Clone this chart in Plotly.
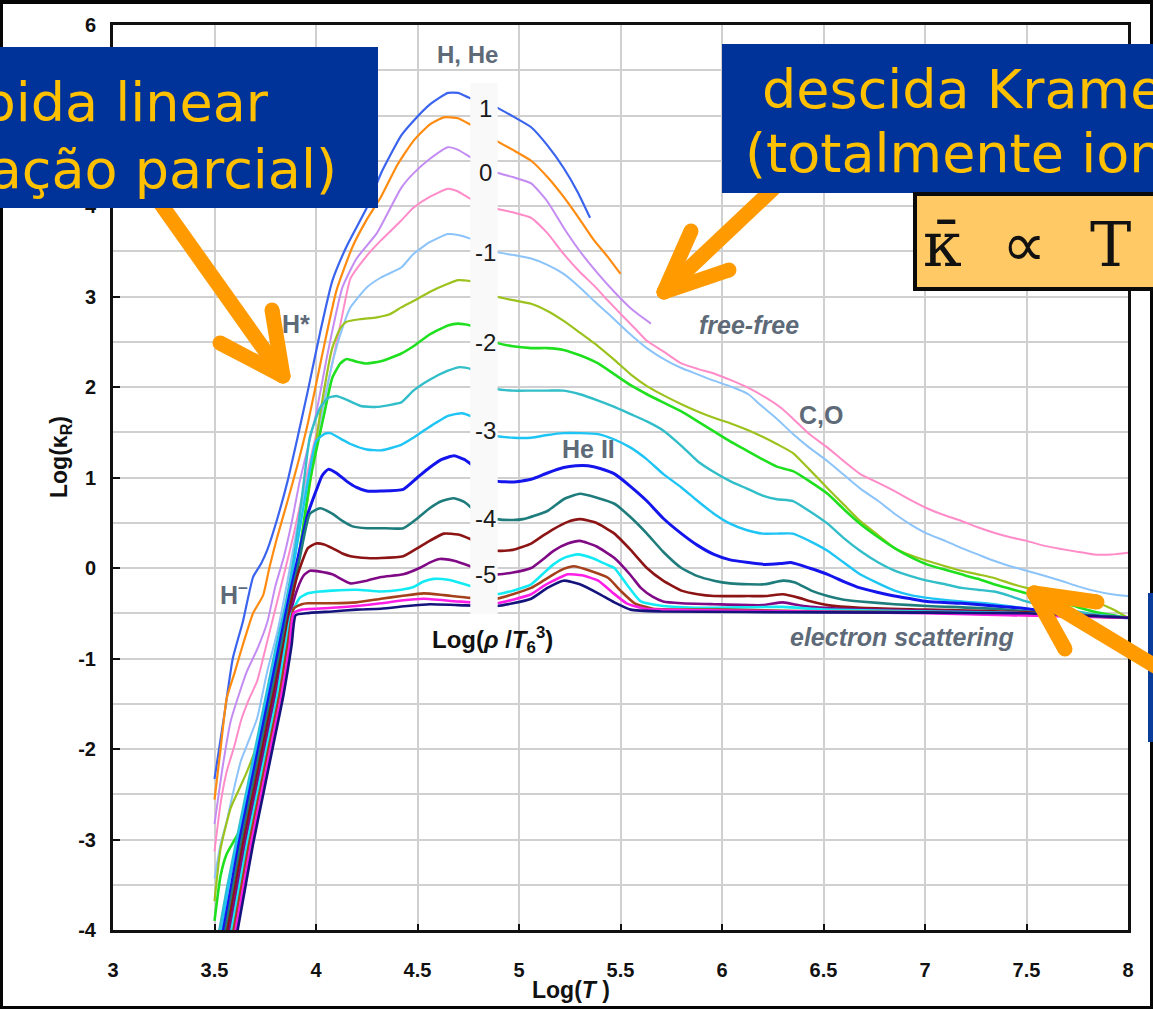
import plotly.graph_objects as go

# ---------------------------------------------------------------
# Rosseland mean opacity log(kappa_R) versus log(T),
# one track per value of log(rho / T6^3)
# ---------------------------------------------------------------

x_tick_vals = [3, 3.5, 4, 4.5, 5, 5.5, 6, 6.5, 7, 7.5, 8]
x_tick_text = ["3", "3.5", "4", "4.5", "5", "5.5", "6", "6.5", "7", "7.5", "8"]
y_tick_vals = [-4, -3, -2, -1, 0, 1, 2, 3, 4, 5, 6]
y_tick_text = ["-4", "-3", "-2", "-1", "0", "1", "2", "3", "4", "5", "6"]

# log R = +1.0
logT_p10 = [3.50, 3.55, 3.59, 3.64, 3.69, 3.73, 3.76, 3.81, 3.86, 3.91, 3.96, 4.02, 4.08, 4.15, 4.25,
            4.32, 4.42, 4.48, 4.56, 4.65, 4.70, 4.76, 4.83, 4.89, 4.97, 5.06, 5.14, 5.22, 5.29, 5.35]
kap_p10 = [-2.33, -1.60, -1.00, -0.59, -0.10, 0.05, 0.20, 0.55, 0.96, 1.45, 1.96, 2.60, 3.17, 3.55, 3.98,
           4.36, 4.78, 4.94, 5.12, 5.25, 5.25, 5.19, 5.15, 5.09, 4.99, 4.87, 4.67, 4.42, 4.15, 3.87]

# log R = +0.5
logT_p05 = [3.50, 3.53, 3.56, 3.60, 3.63, 3.69, 3.74, 3.77, 3.81, 3.86, 3.91, 3.96, 4.03, 4.10, 4.18, 4.25,
            4.32, 4.40, 4.48, 4.56, 4.63, 4.70, 4.76, 4.83, 4.89, 4.97, 5.06, 5.14, 5.22, 5.30, 5.37, 5.44, 5.50]
kap_p05 = [-2.56, -2.00, -1.44, -1.15, -0.92, -0.50, -0.30, 0.00, 0.35, 0.74, 1.15, 1.60, 2.35, 3.06, 3.55, 3.85,
           4.10, 4.45, 4.72, 4.90, 4.98, 4.97, 4.90, 4.82, 4.72, 4.62, 4.50, 4.32, 4.10, 3.85, 3.62, 3.43, 3.25]

# log R = 0.0
logT_p00 = [3.50, 3.54, 3.58, 3.62, 3.66, 3.71, 3.76, 3.80, 3.84, 3.88, 3.92, 4.00, 4.06, 4.13, 4.20, 4.30,
            4.42, 4.48, 4.56, 4.65, 4.70, 4.76, 4.83, 4.89, 4.97, 5.06, 5.14, 5.22, 5.30, 5.39, 5.47, 5.56, 5.65]
kap_p00 = [-2.83, -2.20, -1.69, -1.40, -1.14, -0.90, -0.60, -0.20, 0.11, 0.50, 0.96, 1.70, 2.40, 3.10, 3.42, 3.70,
           4.20, 4.36, 4.52, 4.65, 4.62, 4.54, 4.45, 4.37, 4.32, 4.25, 4.05, 3.76, 3.50, 3.25, 3.05, 2.85, 2.70]

# log R = -0.5
logT_m05 = [3.50, 3.53, 3.56, 3.60, 3.63, 3.67, 3.71, 3.76, 3.81, 3.85, 3.89, 3.93, 3.97, 4.03, 4.08, 4.13,
            4.17, 4.25, 4.32, 4.42, 4.48, 4.56, 4.65, 4.70, 4.76, 4.83, 4.89, 4.97, 5.06, 5.14, 5.22, 5.30,
            5.37, 5.44, 5.50, 5.57, 5.63, 5.72, 5.80, 5.88, 5.96, 6.05, 6.13, 6.21, 6.29, 6.35, 6.43, 6.52,
            6.60, 6.68, 6.77, 6.85, 6.93, 7.01, 7.10, 7.18, 7.26, 7.34, 7.42, 7.50, 7.58, 7.67, 7.75, 7.83,
            7.92, 8.00]
kap_m05 = [-3.13, -2.60, -2.25, -1.95, -1.69, -1.45, -1.25, -0.81, -0.36, 0.00, 0.37, 0.78, 1.18, 1.75, 2.26, 2.80,
           3.20, 3.45, 3.62, 3.84, 3.98, 4.10, 4.19, 4.16, 4.08, 4.02, 3.97, 3.93, 3.87, 3.70, 3.47, 3.27,
           3.12, 2.95, 2.81, 2.65, 2.51, 2.38, 2.26, 2.20, 2.15, 2.07, 1.99, 1.89, 1.77, 1.65, 1.48, 1.33,
           1.18, 1.04, 0.94, 0.85, 0.75, 0.66, 0.58, 0.52, 0.45, 0.39, 0.34, 0.30, 0.25, 0.21, 0.18, 0.15,
           0.15, 0.17]

# log R = -1.0
logT_m10 = [3.50, 3.53, 3.56, 3.60, 3.63, 3.67, 3.71, 3.76, 3.81, 3.86, 3.92, 4.00, 4.08, 4.13, 4.17, 4.25,
            4.32, 4.42, 4.48, 4.56, 4.65, 4.70, 4.76, 4.83, 4.89, 4.97, 5.06, 5.14, 5.22, 5.30, 5.37, 5.44,
            5.53, 5.63, 5.72, 5.80, 5.88, 5.96, 6.05, 6.13, 6.19, 6.27, 6.35, 6.43, 6.52, 6.60, 6.68, 6.77,
            6.85, 6.93, 7.01, 7.10, 7.18, 7.26, 7.34, 7.42, 7.50, 7.58, 7.67, 7.75, 7.83, 7.92, 8.00]
kap_m10 = [-3.43, -3.05, -2.80, -2.40, -2.13, -1.90, -1.66, -1.14, -0.70, -0.14, 0.60, 1.40, 2.26, 2.65, 2.88, 3.10,
           3.21, 3.32, 3.47, 3.60, 3.69, 3.68, 3.64, 3.56, 3.49, 3.46, 3.42, 3.35, 3.25, 3.10, 2.95, 2.81,
           2.62, 2.43, 2.30, 2.21, 2.14, 2.07, 2.00, 1.92, 1.80, 1.65, 1.48, 1.33, 1.18, 1.03, 0.88, 0.74,
           0.60, 0.48, 0.38, 0.30, 0.22, 0.15, 0.08, 0.02, -0.03, -0.08, -0.14, -0.20, -0.25, -0.29, -0.31]

# log R = -1.5
logT_m15 = [3.50, 3.53, 3.58, 3.62, 3.66, 3.72, 3.76, 3.79, 3.84, 3.89, 3.96, 4.02, 4.08, 4.12, 4.15, 4.22,
            4.30, 4.36, 4.42, 4.48, 4.56, 4.65, 4.70, 4.76, 4.83, 4.89, 4.97, 5.06, 5.14, 5.22, 5.30, 5.39,
            5.47, 5.55, 5.63, 5.71, 5.80, 5.88, 5.96, 6.04, 6.12, 6.20, 6.27, 6.35, 6.43, 6.52, 6.60, 6.68,
            6.77, 6.85, 6.93, 7.01, 7.10, 7.18, 7.26, 7.34, 7.42, 7.50, 7.58, 7.67, 7.75, 7.83, 7.92, 8.00]
kap_m15 = [-3.68, -3.10, -2.65, -2.45, -2.25, -1.88, -1.50, -1.14, -0.59, -0.14, 0.77, 1.70, 2.43, 2.65, 2.72, 2.75,
           2.77, 2.80, 2.88, 2.95, 3.05, 3.14, 3.18, 3.17, 3.08, 3.00, 2.96, 2.92, 2.84, 2.73, 2.60, 2.45,
           2.30, 2.14, 2.01, 1.91, 1.81, 1.73, 1.66, 1.60, 1.53, 1.45, 1.37, 1.27, 1.09, 0.88, 0.70, 0.52,
           0.36, 0.22, 0.14, 0.08, 0.02, -0.03, -0.07, -0.11, -0.17, -0.22, -0.25, -0.29, -0.33, -0.37, -0.45, -0.55]

# log R = -2.0
logT_m20 = [3.50, 3.53, 3.56, 3.60, 3.63, 3.66, 3.69, 3.72, 3.76, 3.79, 3.82, 3.86, 3.91, 3.97, 4.04, 4.08,
            4.12, 4.15, 4.20, 4.25, 4.33, 4.42, 4.48, 4.56, 4.65, 4.70, 4.76, 4.83, 4.89, 4.97, 5.06, 5.14,
            5.22, 5.30, 5.39, 5.47, 5.55, 5.63, 5.71, 5.80, 5.88, 5.96, 6.04, 6.12, 6.20, 6.27, 6.35, 6.43,
            6.52, 6.60, 6.68, 6.77, 6.85, 6.93, 7.01, 7.10, 7.18, 7.26, 7.34, 7.42, 7.50, 7.58, 7.67, 7.75,
            7.83, 7.92, 8.00]
kap_m20 = [-3.90, -3.40, -3.16, -3.00, -2.88, -2.72, -2.54, -2.25, -1.88, -1.40, -0.95, -0.59, 0.04, 0.96, 1.70, 2.10,
           2.26, 2.31, 2.28, 2.26, 2.29, 2.37, 2.45, 2.58, 2.68, 2.70, 2.68, 2.58, 2.49, 2.45, 2.43, 2.43,
           2.41, 2.35, 2.26, 2.14, 2.02, 1.92, 1.83, 1.73, 1.62, 1.51, 1.40, 1.30, 1.20, 1.12, 1.07, 0.96,
           0.82, 0.65, 0.49, 0.34, 0.22, 0.12, 0.04, -0.02, -0.07, -0.12, -0.18, -0.23, -0.28, -0.32, -0.37, -0.43,
           -0.48, -0.52, -0.55]

# log R = -2.5
logT_m25 = [3.52, 3.56, 3.60, 3.65, 3.70, 3.75, 3.80, 3.85, 3.90, 3.94, 3.97, 4.02, 4.06, 4.10, 4.15, 4.22,
            4.30, 4.36, 4.42, 4.48, 4.56, 4.65, 4.71, 4.76, 4.83, 4.89, 4.97, 5.06, 5.14, 5.22, 5.30, 5.39,
            5.47, 5.55, 5.63, 5.71, 5.80, 5.88, 5.96, 6.04, 6.12, 6.20, 6.27, 6.35, 6.43, 6.52, 6.60, 6.68,
            6.77, 6.85, 6.93, 7.01, 7.10, 7.18, 7.26, 7.34, 7.42, 7.50, 7.58, 7.67, 7.75, 7.83, 7.92, 8.00]
kap_m25 = [-4.05, -3.55, -3.10, -2.55, -2.00, -1.45, -0.90, -0.40, 0.25, 0.95, 1.45, 1.77, 1.88, 1.90, 1.86, 1.79,
           1.78, 1.80, 1.83, 1.96, 2.08, 2.18, 2.22, 2.20, 2.08, 1.98, 1.96, 1.96, 1.96, 1.96, 1.92, 1.85,
           1.78, 1.70, 1.62, 1.52, 1.35, 1.18, 1.06, 0.96, 0.88, 0.80, 0.76, 0.74, 0.63, 0.49, 0.33, 0.19,
           0.06, -0.03, -0.09, -0.14, -0.18, -0.22, -0.24, -0.26, -0.31, -0.37, -0.41, -0.45, -0.48, -0.51, -0.53, -0.55]

# log R = -3.0
logT_m30 = [3.53, 3.57, 3.61, 3.66, 3.71, 3.76, 3.81, 3.86, 3.91, 3.96, 4.00, 4.04, 4.07, 4.12, 4.17, 4.25,
            4.32, 4.42, 4.48, 4.56, 4.65, 4.72, 4.78, 4.89, 4.97, 5.06, 5.14, 5.22, 5.30, 5.39, 5.47, 5.55,
            5.63, 5.71, 5.80, 5.88, 5.96, 6.04, 6.12, 6.20, 6.27, 6.35, 6.43, 6.52, 6.60, 6.68, 6.77, 6.85,
            6.93, 7.01, 7.18, 7.34, 7.50, 7.67, 7.83, 8.00]
kap_m30 = [-4.05, -3.50, -3.05, -2.50, -1.95, -1.40, -0.85, -0.35, 0.30, 0.96, 1.40, 1.48, 1.49, 1.43, 1.37, 1.31,
           1.30, 1.36, 1.44, 1.56, 1.68, 1.71, 1.66, 1.46, 1.44, 1.44, 1.47, 1.49, 1.49, 1.48, 1.42, 1.33,
           1.20, 1.04, 0.89, 0.74, 0.60, 0.49, 0.42, 0.38, 0.38, 0.38, 0.30, 0.19, 0.06, -0.07, -0.17, -0.25,
           -0.30, -0.33, -0.37, -0.40, -0.45, -0.51, -0.53, -0.55]

# log R = -3.5
logT_m35 = [3.54, 3.58, 3.62, 3.67, 3.72, 3.77, 3.82, 3.87, 3.92, 3.96, 4.00, 4.03, 4.06, 4.10, 4.15, 4.20,
            4.25, 4.32, 4.43, 4.50, 4.56, 4.62, 4.68, 4.73, 4.78, 4.84, 4.89, 4.97, 5.06, 5.14, 5.22, 5.28,
            5.34, 5.40, 5.47, 5.55, 5.63, 5.71, 5.80, 5.88, 5.96, 6.04, 6.13, 6.21, 6.29, 6.34, 6.43, 6.52,
            6.60, 6.68, 6.77, 6.85, 6.93, 7.01, 7.18, 7.34, 7.50, 7.67, 7.83, 8.00]
kap_m35 = [-4.05, -3.55, -3.05, -2.50, -1.95, -1.40, -0.85, -0.30, 0.20, 0.60, 0.85, 1.02, 1.09, 1.05, 0.96, 0.89,
           0.85, 0.85, 0.87, 1.00, 1.11, 1.20, 1.24, 1.20, 1.12, 1.02, 0.96, 0.95, 0.98, 1.05, 1.11, 1.13,
           1.13, 1.10, 1.04, 0.90, 0.74, 0.55, 0.38, 0.25, 0.15, 0.09, 0.06, 0.04, 0.05, 0.06, 0.00, -0.07,
           -0.15, -0.22, -0.27, -0.31, -0.34, -0.37, -0.39, -0.42, -0.45, -0.50, -0.53, -0.55]

# log R = -4.0
logT_m40 = [3.55, 3.59, 3.63, 3.68, 3.73, 3.78, 3.83, 3.87, 3.92, 3.97, 4.02, 4.08, 4.13, 4.18, 4.25, 4.32,
            4.43, 4.50, 4.56, 4.62, 4.68, 4.73, 4.78, 4.84, 4.89, 4.97, 5.02, 5.08, 5.14, 5.22, 5.30, 5.38,
            5.47, 5.55, 5.63, 5.71, 5.80, 5.88, 5.96, 6.04, 6.13, 6.21, 6.30, 6.36, 6.44, 6.52, 6.60, 6.68,
            6.85, 7.01, 7.34, 7.67, 8.00]
kap_m40 = [-4.05, -3.55, -3.05, -2.50, -1.95, -1.40, -0.85, -0.40, 0.11, 0.60, 0.66, 0.60, 0.52, 0.46, 0.44, 0.44,
           0.44, 0.55, 0.66, 0.74, 0.77, 0.73, 0.64, 0.57, 0.54, 0.53, 0.54, 0.58, 0.63, 0.76, 0.82, 0.78,
           0.71, 0.56, 0.38, 0.18, 0.00, -0.09, -0.14, -0.17, -0.18, -0.18, -0.14, -0.16, -0.25, -0.31, -0.35, -0.37,
           -0.40, -0.42, -0.45, -0.51, -0.55]

# log R = -4.5
logT_m45 = [3.56, 3.60, 3.64, 3.69, 3.74, 3.79, 3.84, 3.88, 3.91, 3.96, 4.00, 4.04, 4.08, 4.13, 4.17, 4.25,
            4.32, 4.43, 4.50, 4.56, 4.63, 4.70, 4.76, 4.83, 4.89, 4.97, 5.06, 5.12, 5.17, 5.24, 5.30, 5.38,
            5.47, 5.55, 5.63, 5.71, 5.80, 5.88, 5.96, 6.13, 6.22, 6.30, 6.38, 6.44, 6.52, 6.68, 7.01, 7.50, 8.00]
kap_m45 = [-4.05, -3.55, -3.05, -2.50, -1.95, -1.40, -0.85, -0.35, -0.07, 0.22, 0.27, 0.26, 0.22, 0.16, 0.13, 0.11,
           0.11, 0.13, 0.22, 0.30, 0.38, 0.37, 0.32, 0.24, 0.19, 0.20, 0.27, 0.36, 0.43, 0.51, 0.54, 0.50,
           0.38, 0.20, 0.00, -0.14, -0.25, -0.29, -0.31, -0.31, -0.31, -0.29, -0.33, -0.37, -0.41, -0.44, -0.46, -0.49, -0.55]

# log R = -5.0
logT_m50 = [3.57, 3.61, 3.65, 3.70, 3.75, 3.80, 3.85, 3.88, 3.91, 3.94, 3.97, 4.02, 4.08, 4.17, 4.25, 4.32,
            4.43, 4.51, 4.56, 4.61, 4.68, 4.76, 4.83, 4.89, 4.97, 5.06, 5.12, 5.17, 5.24, 5.30, 5.38, 5.47,
            5.55, 5.60, 5.66, 5.71, 5.80, 5.96, 6.20, 6.30, 6.40, 6.60, 7.00, 7.50, 8.00]
kap_m50 = [-4.05, -3.55, -3.05, -2.50, -1.95, -1.40, -0.85, -0.45, -0.22, -0.08, -0.03, -0.04, -0.07, -0.17, -0.14, -0.10,
           -0.07, 0.00, 0.06, 0.10, 0.08, 0.02, -0.04, -0.07, -0.05, 0.00, 0.10, 0.19, 0.27, 0.30, 0.24, 0.11,
           -0.08, -0.22, -0.32, -0.37, -0.39, -0.40, -0.41, -0.38, -0.42, -0.45, -0.47, -0.50, -0.55]

# log R = -5.5
logT_m55 = [3.58, 3.62, 3.66, 3.71, 3.76, 3.81, 3.85, 3.88, 3.92, 3.96, 4.02, 4.08, 4.20, 4.32, 4.42, 4.48,
            4.53, 4.58, 4.65, 4.76, 4.83, 4.89, 4.97, 5.06, 5.12, 5.17, 5.23, 5.29, 5.36, 5.43, 5.47, 5.53,
            5.60, 5.71, 5.90, 6.30, 6.50, 7.00, 7.50, 8.00]
kap_m55 = [-4.05, -3.55, -3.05, -2.50, -1.95, -1.40, -0.85, -0.50, -0.33, -0.28, -0.26, -0.25, -0.24, -0.26, -0.24, -0.21,
           -0.15, -0.12, -0.13, -0.20, -0.26, -0.29, -0.25, -0.18, -0.06, 0.04, 0.12, 0.15, 0.11, 0.04, 0.00, -0.18,
           -0.37, -0.42, -0.44, -0.43, -0.46, -0.48, -0.50, -0.55]

# log R = -6.0
logT_m60 = [3.59, 3.63, 3.67, 3.72, 3.77, 3.82, 3.86, 3.89, 3.93, 3.96, 4.08, 4.20, 4.32, 4.42, 4.53, 4.63,
            4.76, 4.89, 4.97, 5.06, 5.12, 5.17, 5.22, 5.27, 5.35, 5.44, 5.50, 5.57, 5.66, 6.00, 6.50, 7.00, 8.00]
kap_m60 = [-4.05, -3.55, -3.05, -2.50, -1.95, -1.40, -0.85, -0.45, -0.40, -0.39, -0.39, -0.38, -0.34, -0.31, -0.28, -0.30,
           -0.33, -0.34, -0.29, -0.22, -0.14, -0.07, -0.01, 0.02, -0.03, -0.11, -0.25, -0.39, -0.45, -0.46, -0.48, -0.49, -0.55]

# log R = -6.5
logT_m65 = [3.60, 3.64, 3.68, 3.73, 3.78, 3.83, 3.87, 3.89, 3.93, 4.08, 4.20, 4.32, 4.42, 4.53, 4.70, 4.89,
            4.97, 5.06, 5.12, 5.17, 5.24, 5.31, 5.39, 5.46, 5.53, 5.62, 6.00, 7.00, 8.00]
kap_m65 = [-4.05, -3.55, -3.05, -2.50, -1.95, -1.40, -0.85, -0.50, -0.46, -0.44, -0.42, -0.39, -0.36, -0.34, -0.37, -0.39,
           -0.35, -0.29, -0.20, -0.14, -0.07, -0.08, -0.14, -0.27, -0.39, -0.45, -0.47, -0.50, -0.55]

# log R = -7.0
logT_m70 = [3.61, 3.65, 3.69, 3.74, 3.79, 3.84, 3.88, 3.90, 3.95, 4.08, 4.20, 4.32, 4.45, 4.56, 4.70, 4.89,
            4.97, 5.06, 5.14, 5.22, 5.30, 5.39, 5.47, 5.55, 5.70, 6.50, 7.50, 8.00]
kap_m70 = [-4.05, -3.55, -3.05, -2.50, -1.95, -1.40, -0.85, -0.52, -0.50, -0.48, -0.46, -0.45, -0.42, -0.40, -0.41, -0.42,
           -0.39, -0.34, -0.22, -0.14, -0.18, -0.28, -0.38, -0.46, -0.48, -0.49, -0.50, -0.55]

tracks = [
    ("1.0", logT_p10, kap_p10, "#3a64ee", 2.2),
    ("0.5", logT_p05, kap_p05, "#ff8c10", 2.2),
    ("0.0", logT_p00, kap_p00, "#c48cf2", 2.0),
    ("-0.5", logT_m05, kap_m05, "#ff8cc8", 2.0),
    ("-1.0", logT_m10, kap_m10, "#8cc4fa", 2.0),
    ("-1.5", logT_m15, kap_m15, "#9cc21e", 2.2),
    ("-2.0", logT_m20, kap_m20, "#1ee01e", 2.6),
    ("-2.5", logT_m25, kap_m25, "#32bec8", 2.4),
    ("-3.0", logT_m30, kap_m30, "#1ec4f4", 2.4),
    ("-3.5", logT_m35, kap_m35, "#1414ec", 3.0),
    ("-4.0", logT_m40, kap_m40, "#1e7c7c", 2.6),
    ("-4.5", logT_m45, kap_m45, "#8c1414", 2.6),
    ("-5.0", logT_m50, kap_m50, "#800a86", 2.6),
    ("-5.5", logT_m55, kap_m55, "#14eaf4", 2.6),
    ("-6.0", logT_m60, kap_m60, "#a4401c", 2.6),
    ("-6.5", logT_m65, kap_m65, "#ff1ee6", 2.6),
    ("-7.0", logT_m70, kap_m70, "#14147c", 2.6),
]

# density labels written in the white strip (value, log kappa position)
strip_labels = ["1", "0", "-1", "-2", "-3", "-4", "-5"]
strip_label_kappa = [5.08, 4.37, 3.49, 2.49, 1.52, 0.55, -0.07]

fig = go.Figure()
for name, xs, ys, col, w in tracks:
    fig.add_trace(go.Scatter(
        x=xs, y=ys, mode="lines", name="log R = " + name,
        line=dict(color=col, width=w, shape="spline", smoothing=0.5),
        showlegend=False, hoverinfo="skip",
    ))

# ---------------- page geometry helpers (pixels -> paper) -------------
W, H = 1153, 1009
L, R, T, B = 113, 25, 25, 79
PW, PH = W - L - R, H - T - B


def px(x):
    return (x - L) / PW


def py(y):
    return (H - B - y) / PH


shapes = []

# white page inside a thin dark frame
shapes.append(dict(type="rect", xref="paper", yref="paper", layer="below",
                   x0=px(3), x1=px(1150), y0=py(1006), y1=py(4),
                   fillcolor="white", line=dict(width=0)))

# light strip carrying the density labels
shapes.append(dict(type="rect", xref="x", yref="y", layer="above",
                   x0=4.76, x1=4.895, y0=-0.51, y1=5.36,
                   fillcolor="#f9f9f9", line=dict(width=0)))

ORANGE = "#ff9a00"
STROKE = 15


def stroke(p0, p1, caps=(True, True)):
    shapes.append(dict(type="line", xref="paper", yref="paper", layer="above",
                       x0=px(p0[0]), y0=py(p0[1]), x1=px(p1[0]), y1=py(p1[1]),
                       line=dict(color=ORANGE, width=STROKE)))
    r = STROKE / 2
    for p, c in zip((p0, p1), caps):
        if c:
            shapes.append(dict(type="circle", xref="paper", yref="paper", layer="above",
                               x0=px(p[0] - r), x1=px(p[0] + r), y0=py(p[1] + r), y1=py(p[1] - r),
                               fillcolor=ORANGE, line=dict(width=0)))


# arrow towards the steep ionisation rise
stroke((158, 200), (283, 376), caps=(False, True))
stroke((283, 376), (272, 310))
stroke((283, 376), (220, 343))
# arrow towards the Kramers decline
stroke((774, 188), (664, 292), caps=(False, True))
stroke((664, 292), (691, 231))
stroke((664, 292), (729, 270))

# blue panel strip on the right edge
shapes.append(dict(type="rect", xref="paper", yref="paper", layer="above",
                   x0=px(1148), x1=px(1160), y0=py(742), y1=py(593),
                   fillcolor="#0a3c9c", line=dict(width=0)))

# arrow towards electron scattering floor
stroke((1170, 675), (1034, 593), caps=(False, True))
stroke((1034, 593), (1097, 602))
stroke((1034, 593), (1065, 649))

# text panels
BLUE = "#003399"
shapes.append(dict(type="rect", xref="paper", yref="paper", layer="above",
                   x0=px(-10), x1=px(378), y0=py(208), y1=py(47),
                   fillcolor=BLUE, line=dict(width=0)))
shapes.append(dict(type="rect", xref="paper", yref="paper", layer="above",
                   x0=px(722), x1=px(1165), y0=py(193), y1=py(44),
                   fillcolor=BLUE, line=dict(width=0)))
shapes.append(dict(type="rect", xref="paper", yref="paper", layer="above",
                   x0=px(915), x1=px(1165), y0=py(289), y1=py(194),
                   fillcolor="#ffca66", line=dict(color="#0a0a0a", width=4)))

fig.update_layout(shapes=shapes)

ann = []
YEL = "#ffc000"
PANEL_FONT = "DejaVu Sans"


def panel_text(text, x, y, anchor):
    ann.append(dict(text=text, xref="paper", yref="paper", x=px(x), y=py(y),
                    xanchor=anchor, yanchor="middle", showarrow=False,
                    font=dict(family=PANEL_FONT, size=54, color=YEL)))


panel_text("Subida linear", 271, 102, "right")
panel_text("(ionização parcial)", 339, 169, "right")
panel_text("descida Kramers", 760, 89, "left")
panel_text("(totalmente ionizado)", 743, 154, "left")

# proportionality formula in the orange box
for txt, xc, fam in (("κ̄", 942, "DejaVu Serif"), ("∝", 1024, "DejaVu Sans"), ("T", 1110, "DejaVu Serif")):
    ann.append(dict(text=txt, xref="paper", yref="paper", x=px(xc), y=py(244),
                    xanchor="center", yanchor="middle", showarrow=False,
                    font=dict(family=fam, size=62, color="#111111")))

GRAY = "#5e6a78"


def gray_label(text, x, y, italic=False, size=25, anchor="center"):
    ann.append(dict(text=text, xref="x", yref="y", x=x, y=y, xanchor=anchor, yanchor="middle",
                    showarrow=False,
                    font=dict(family="Liberation Sans", size=size, color=GRAY, weight="bold",
                              style="italic" if italic else "normal")))


gray_label("H, He", 4.746, 5.675, size=24)
gray_label("H*", 3.902, 2.70)
gray_label("H<sup>–</sup>", 3.518, -0.28, anchor="left")
gray_label("free-free", 6.131, 2.69, italic=True)
gray_label("C,O", 6.486, 1.69)
gray_label("He II", 5.342, 1.31)
gray_label("electron scattering", 6.886, -0.76, italic=True)

for lab, k in zip(strip_labels, strip_label_kappa):
    ann.append(dict(text=lab, xref="x", yref="y", x=4.835, y=k, xanchor="center", yanchor="middle",
                    showarrow=False, font=dict(family="Liberation Sans", size=24, color="#1a1a1a")))

ann.append(dict(text="Log(<i>ρ</i> /<i>T</i><sub>6</sub><sup>3</sup>)", xref="x", yref="y",
                x=4.87, y=-0.80, xanchor="center", yanchor="middle", showarrow=False,
                font=dict(family="Liberation Sans", size=24, color="#111111", weight="bold")))

# axis titles
ann.append(dict(text="Log(<i>T</i> )", xref="paper", yref="paper", x=px(571), y=py(990),
                xanchor="center", yanchor="middle", showarrow=False,
                font=dict(family="Liberation Sans Narrow, Liberation Sans", size=23, color="#111111",
                          weight="bold")))
ann.append(dict(text="Log(κ<sub>R</sub>)", xref="paper", yref="paper", x=px(60), y=py(457),
                xanchor="center", yanchor="middle", showarrow=False, textangle=-90,
                font=dict(family="Liberation Sans Narrow, Liberation Sans", size=23, color="#111111",
                          weight="bold")))

fig.update_layout(annotations=ann)

GRID = "#d0d0d0"
TICKFONT = dict(family="Liberation Sans Narrow, Liberation Sans", size=20, color="#111111", weight="bold")

fig.update_xaxes(range=[3, 8], tickvals=x_tick_vals, ticktext=x_tick_text,
                 showgrid=True, gridcolor=GRID, gridwidth=1.8,
                 showline=True, linecolor="#111111", linewidth=3, mirror=True,
                 ticks="inside", ticklen=6, tickwidth=2, tickcolor="#111111",
                 tickfont=TICKFONT, ticklabelstandoff=20, zeroline=False)
fig.update_yaxes(range=[-4, 6], tickvals=y_tick_vals, ticktext=y_tick_text,
                 showgrid=True, gridcolor=GRID, gridwidth=1.8,
                 minor=dict(dtick=0.5, tick0=0, showgrid=True, gridcolor=GRID, gridwidth=1.8, ticks=""),
                 showline=True, linecolor="#111111", linewidth=3, mirror=True,
                 ticks="inside", ticklen=7, tickwidth=2, tickcolor="#111111",
                 tickfont=TICKFONT, ticklabelstandoff=10, zeroline=False)

fig.update_layout(width=W, height=H, margin=dict(l=L, r=R, t=T, b=B, autoexpand=False),
                  paper_bgcolor="#050505", plot_bgcolor="white", showlegend=False)

fig.write_html("out.html")
